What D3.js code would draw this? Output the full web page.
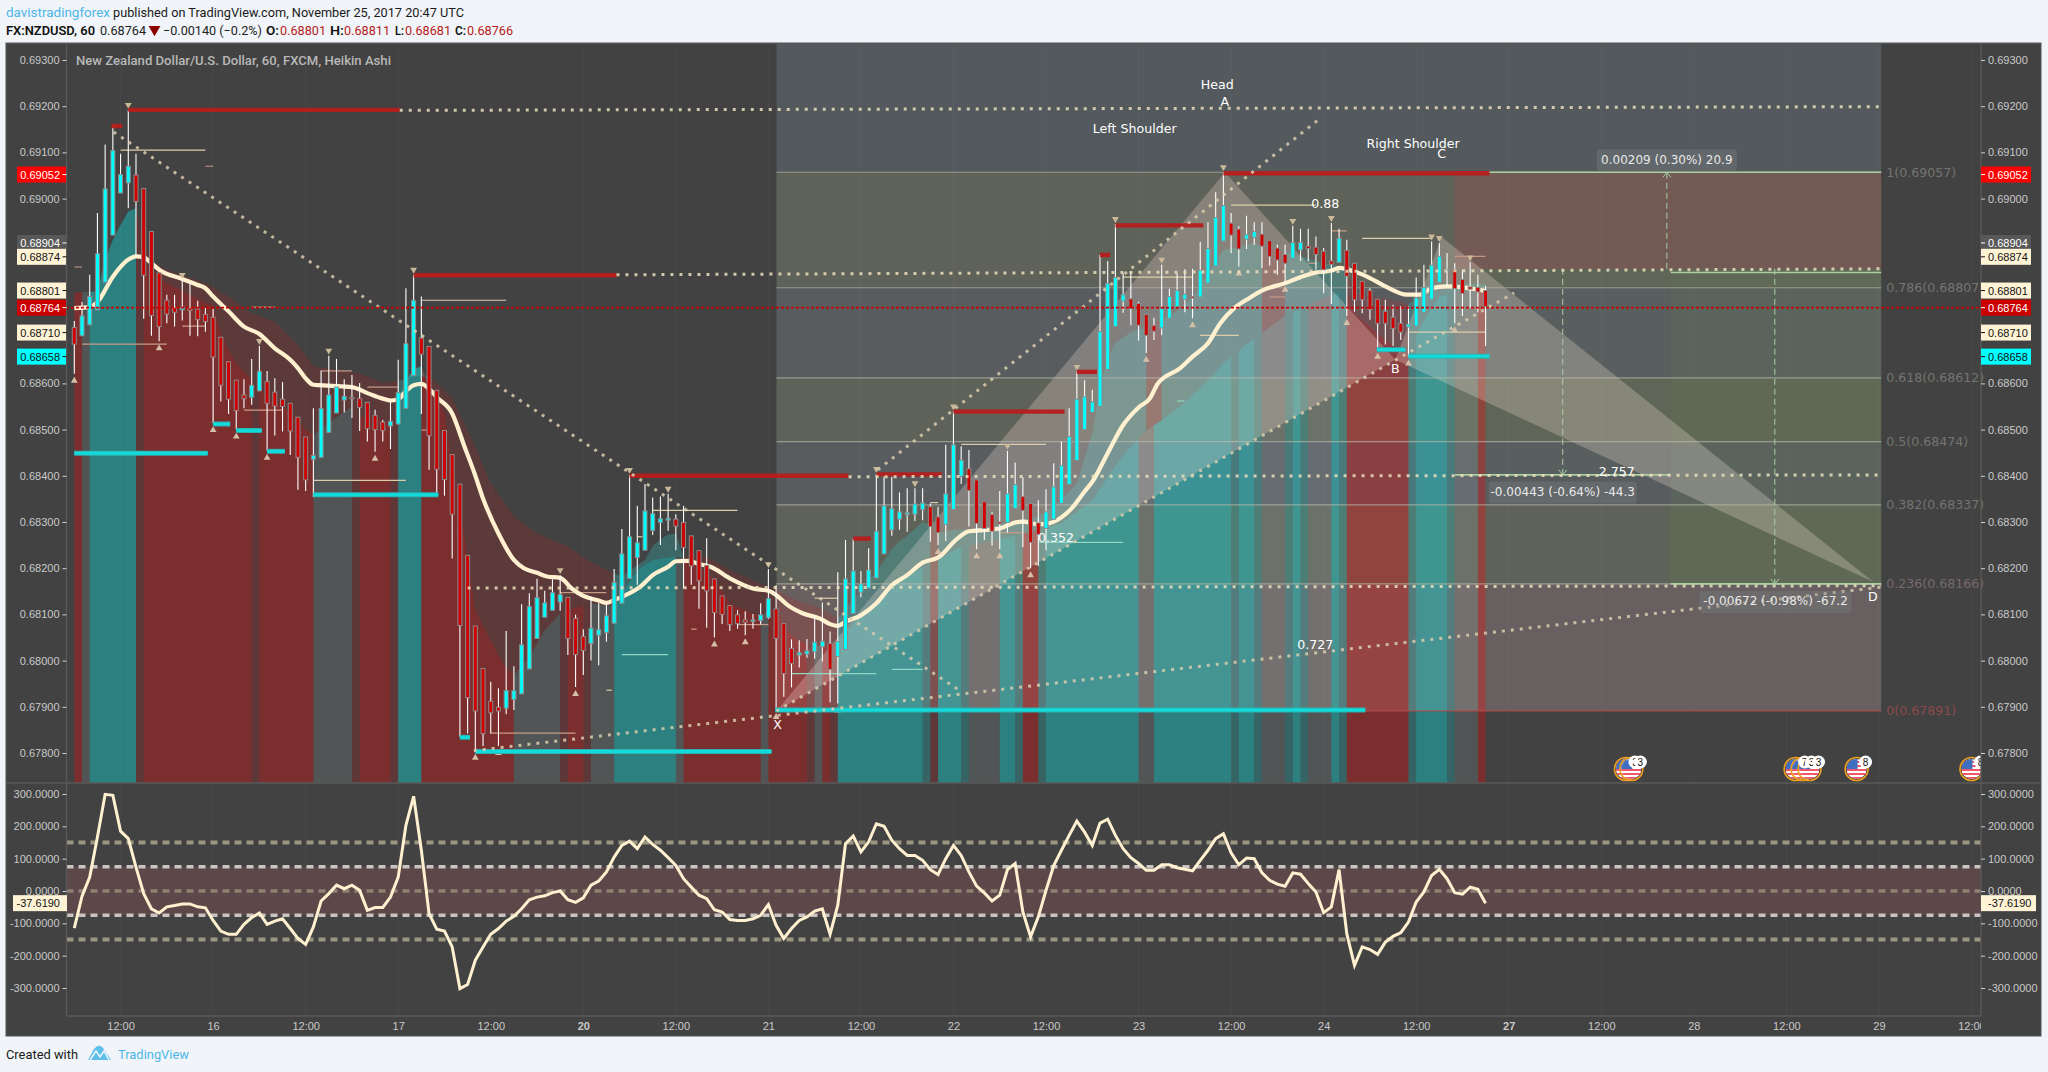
<!DOCTYPE html>
<html><head><meta charset="utf-8">
<script src="https://cdnjs.cloudflare.com/ajax/libs/d3/7.8.5/d3.min.js"></script>
<style>html,body{margin:0;padding:0;background:#f1f5f9}svg{display:block}</style>
</head><body><script>
// prices are in units of 0.00001; x positions are bar numbers (0 = first candle)
const opens=[68721,68703,68727,68759,68819,68921,69012,69034,69051,69022,
68929,68839,68780,68764,68759,68763,68761,68749,68743,68700,
68647,68607,68575,68570,68584,68604,68581,68566,68557,68527,
68484,68436,68440,68494,68536,68564,68570,68567,68559,68531,
68516,68508,68512,68546,68617,68698,68680,68585,68498,68446,
68382,68228,68075,67983,67912,67899,67897,67916,67928,67982,
68048,68094,68109,68127,68137,68091,68052,68037,68055,68061,
68081,68124,68178,68223,68239,68282,68299,68304,68306,68299,
68270,68238,68206,68177,68140,68119,68099,68088,68086,68087,
68093,68112,68080,68026,68012,68014,68019,68030,68037,68009,
68024,68102,68148,68157,68179,68231,68283,68306,68316,68317,
68327,68333,68311,68295,68327,68399,68415,68391,68344,68316,
68300,68299,68329,68355,68340,68298,68286,68306,68340,68381,
68433,68500,68537,68550,68630,68723,68778,68783,68773,68749,
68725,68720,68741,68765,68782,68788,68787,68817,68854,68908,
68947,68934,68912,68916,68923,68909,68893,68879,68871,68889,
68897,68895,68886,68865,68862,68888,68860,68821,68801,68782,
68756,68743,68730,68722,68724,68754,68782,68819,68846,68847,
68825,68809,68808,68801];
const closes=[68685,68746,68788,68881,69021,69104,69052,69070,68994,68834,
68747,68723,68750,68754,68764,68758,68738,68734,68657,68596,
68566,68541,68567,68596,68626,68557,68551,68550,68497,68440,
68391,68444,68546,68575,68592,68572,68567,68548,68502,68500,
68498,68518,68580,68686,68780,68663,68487,68414,68392,68317,
68076,67920,67891,67842,67887,67891,67935,67935,68034,68117,
68136,68125,68147,68143,68048,68013,68022,68070,68067,68097,
68169,68231,68268,68255,68324,68318,68307,68308,68291,68245,
68205,68173,68151,68104,68100,68078,68080,68083,68088,68099,
68134,68048,67972,67994,68017,68021,68040,68042,67981,68041,
68177,68194,68166,68196,68280,68335,68329,68322,68320,68339,
68341,68290,68277,68361,68467,68434,68368,68297,68286,68280,
68296,68361,68381,68325,68256,68273,68322,68376,68422,68485,
68566,68571,68560,68712,68816,68829,68792,68762,68726,68704,
68713,68762,68788,68801,68793,68786,68845,68892,68959,68985,
68921,68891,68922,68929,68897,68875,68867,68860,68905,68905,
68892,68879,68846,68858,68914,68832,68781,68781,68760,68730,
68730,68719,68711,68728,68785,68808,68856,68875,68847,68805,
68795,68804,68798,68766];
const highs=[68735,68776,68835,68969,69117,69158,69097,69192,69097,69022,
68929,68839,68792,68792,68824,68817,68779,68763,68761,68700,
68647,68607,68609,68653,68681,68627,68611,68603,68557,68527,
68484,68546,68628,68660,68653,68609,68618,68601,68559,68543,
68521,68560,68651,68806,68835,68788,68680,68585,68498,68446,
68382,68228,68075,67983,67954,67940,68064,67988,68122,68146,
68177,68151,68176,68185,68137,68099,68068,68137,68125,68124,
68198,68285,68402,68335,68382,68353,68355,68361,68317,68335,
68270,68238,68265,68177,68140,68119,68109,68107,68101,68124,
68198,68163,68080,68046,68044,68047,68097,68126,68063,68191,
68261,68264,68194,68243,68404,68399,68398,68364,68373,68373,
68373,68340,68333,68467,68539,68464,68456,68391,68344,68321,
68367,68454,68429,68397,68340,68347,68371,68427,68475,68546,
68625,68607,68586,68878,68865,68945,68838,68843,68777,68749,
68742,68857,68805,68839,68847,68848,68906,68949,69014,69057,
68969,68940,68963,68949,68949,68909,68900,68900,68941,68935,
68935,68918,68893,68947,68935,68911,68860,68821,68806,68782,
68781,68770,68767,68767,68829,68857,68907,68904,68882,68860,
68846,68862,68835,68811];
const lows=[68621,68703,68726,68759,68819,68921,69012,68979,68875,68740,
68703,68691,68730,68723,68736,68703,68702,68712,68514,68561,
68534,68500,68546,68554,68583,68454,68487,68496,68445,68370,
68367,68354,68440,68494,68536,68537,68525,68497,68474,68452,
68474,68458,68512,68546,68617,68534,68413,68363,68357,68221,
67835,67842,67805,67815,67842,67815,67884,67893,67928,67982,
68048,68094,68109,68108,68012,67943,67969,68000,67990,68041,
68081,68124,68178,68164,68239,68272,68250,68281,68239,68156,
68164,68112,68071,68050,68079,68064,68069,68055,68069,68078,
68090,67893,67922,67942,67985,68006,68004,67998,67910,67907,
68024,68102,68137,68157,68179,68231,68270,68283,68279,68302,
68304,68257,68250,68259,68327,68382,68290,68241,68261,68249,
68241,68277,68329,68246,68200,68205,68239,68306,68340,68381,
68433,68500,68537,68550,68630,68723,68753,68726,68693,68666,
68694,68704,68741,68765,68754,68741,68787,68817,68854,68908,
68882,68853,68891,68900,68850,68855,68835,68818,68871,68865,
68864,68846,68795,68772,68862,68746,68755,68752,68738,68673,
68684,68681,68694,68658,68724,68754,68782,68819,68810,68730,
68746,68763,68754,68681];

const emaBars=[0,2,3,5,7,8,9,10,11,14,16,17,18,20,22,24,26,28,29,30,31,33,36,38,40,41,42,43,44,45,46,47,49,50.6,51.9,53,55,57,58.3,60,61.3,63,64.5,66,68,69,70,71,73.4,75,77,78,79.6,81,82.5,85,88,90,91,92.5,94.5,96.7,98,99,100,102,104,106,108,110,112,114.5,116,118.3,120,121.8,123,125,126,128,129.3,131,132,134,136,138,139.5,140.5,143.4,145,147,148.6,150.4,152,154,157,159,161,163,164,166,168,170,172.8,174.5,176,178,180,183];
const emaVals=[68763,68765,68776,68831,68868,68875,68873,68860,68846,68826,68813,68806,68788,68756,68723,68707,68676,68651,68633,68611,68597,68595,68592,68579,68567,68563,68566,68583,68596,68599,68588,68570,68535,68463,68405,68351,68275,68218,68200,68190,68182,68179,68156,68140,68130,68125,68131,68138,68160,68185,68203,68215,68216,68209,68203,68178,68156,68151,68142,68120,68102,68091,68079,68075,68084,68098,68124,68163,68185,68212,68223,68264,68280,68283,68286,68298,68301,68295,68296,68310,68329,68366,68387,68449,68510,68548,68568,68600,68633,68658,68687,68730,68763,68781,68801,68817,68830,68840,68844,68850,68842,68828,68810,68792,68792,68806,68810,68808,68800];

const upperBars=[0,3,4,5,6,7,8,9,10,12,14,17,20,23,26,29,31,34,37,40,42,44,46,48,49,51.8,54,57,60,64,66.5,69.5,71,74,75.2,77,78.2,79,82,85,89,90.8,93.4,96.4,99,104.5,106.3,108.4,110.2,112,114,118,122,125,128,130,132,133.4,135,137.5,139,142.7,145,146.7,149,153,154,158,162,165,166,172.8,173.5,175,177,183];
const upperVals=[68797,68799,68868,68911,68943,68972,68979,68911,68866,68846,68834,68818,68788,68752,68734,68684,68637,68629,68622,68601,68606,68615,68615,68586,68568,68470,68384,68312,68275,68247,68218,68192,68182,68218,68254,68273,68275,68225,68225,68196,68167,68156,68131,68117,68091,68203,68250,68275,68304,68275,68283,68286,68304,68311,68347,68384,68492,68636,68688,68716,68720,68753,68787,68831,68889,68904,68896,68880,68860,68850,68795,68774,68767,68810,68815,68815];
const lowerBars=[0,3,4,5,6,7,8,9,10.5,12,18,19.3,21,23,25,27,29,30.7,33.5,36,37,40,41,42,43.7,45,46,48,49.2,50.5,51.8,54,55.7,57,59,61,63,64,67,70,71.5,73,75,78,79,81,83.5,85,88,89.3,90,91,92.5,94.6,97.2,99,100,102,104,107.5,111,112.5,115,119.5,123,128,132,135.5,138.5,141,143.4,146.4,149.8,152.8,157.1,163,165.7,166,170,172.8,174.5,177,180,183];
const lowerVals=[68797,68799,68868,68911,68943,68972,68979,68860,68839,68817,68767,68694,68644,68608,68572,68550,68521,68485,68521,68550,68528,68521,68514,68572,68629,68637,68593,68535,68405,68290,68117,68044,67990,67969,68008,68066,68102,68110,68124,68117,68160,68196,68218,68226,68221,68203,68167,68124,68102,68095,68110,68109,68059,68037,68030,68044,68059,68102,68124,68181,68210,68225,68246,68261,68275,68297,68347,68434,68492,68521,68550,68597,68658,68694,68748,68792,68799,68752,68694,68658,68723,68788,68803,68803];

// background state of the bars: [first bar, last bar, state]
const columnRuns=[[0,1,'r'],[1,2,'g'],[2,8,'t'],[8,9,'b'],[9,23,'r'],[23,24,'b'],[24,31,'r'],[31,36,'g'],[36,37,'b'],[37,41,'r'],[41,42,'b'],[42,45,'t'],[45,57,'r'],[57,63,'g'],[63,64,'b'],[64,66,'r'],[66,67,'b'],[67,70,'g'],[70,78,'t'],[78,79,'g'],[79,89,'r'],[89,90,'g'],[90,95,'r'],[95,96,'b'],[96,97,'g'],[97,98,'r'],[98,99,'b'],[99,110,'t'],[110,111,'m'],[111,112,'b'],[112,115,'t'],[115,116,'m'],[116,120,'g'],[120,122,'t'],[122,123,'m'],[123,125,'r'],[125,126,'m'],[126,138,'t'],[138,140,'g'],[140,150,'t'],[150,151,'m'],[151,153,'t'],[153,154,'m'],[154,157,'g'],[157,158,'m'],[158,159,'t'],[159,160,'m'],[160,163,'g'],[163,164,'t'],[164,165,'m'],[165,173,'r'],[173,174,'m'],[174,178,'t'],[178,179,'m'],[179,182,'g'],[182,183,'r']];
const bandRuns=[[0,42,'r'],[42,46,'t'],[46,70,'r'],[70,79,'t'],[79,99,'r'],[99,111,'t'],[111,112,'r'],[112,139,'t'],[139,141,'r'],[141,154,'t'],[154,157,'r'],[157,165,'t'],[165,173,'r'],[173,183,'t']];

const fibLevels=[1,0.786,0.618,0.5,0.382,0.236,0];
const fibPrices=[69057,68807,68612,68474,68337,68166,67891];
const fibLabels=['1(0.69057)','0.786(0.68807)','0.618(0.68612)','0.5(0.68474)','0.382(0.68337)','0.236(0.68166)','0(0.67891)'];
const fibFills=['#5f6258','#585c5f','#5f6258','#585c5f','#5f6258','#686060'];
const fibStart=91.05, fibEnd=234.3, chartTop=69460;

const patternBars=[91.05,149.2,171.3,177.3,233.3];
const patternVals=[67891,69057,68651,68917,68170];

// dotted trend lines [bar, price, bar, price]
const dottedH=[[42.2,69191,234.3,69199],[70.3,68835,234.3,68848],[100.4,68398,234.3,68402],[51,68157,234.3,68162]];
const dottedD=[[5.1,69144,115.1,67932],[51.8,67805,234.3,68159],[104.2,68413,161.5,69173],[91.05,67891,186.7,68796]];
const redLevels=[[4.8,6.2,69157],[7,42.2,69192],[44,70.3,68834],[72,100.4,68400],[104,112.5,68403],[101,103.3,68264],[114,128.4,68539],[130,132.6,68625],[133,134.3,68878],[135,146.4,68942],[149,183.5,69055]];
const cyanLevels=[[0,17.3,68449],[18,20.2,68512],[21,24.3,68498],[25,27.3,68453],[31,47.2,68359],[50,51.3,67834],[52,90.4,67803],[90.9,167.4,67893],[168.9,172.6,68673],[173,183.5,68659]];
const pivots=[[6,17,69105,'a'],[17,18,69070,'b'],[0,1,68852,'b'],[1,12,68685,'b'],[14,17,68724,'b'],[23,26,68765,'b'],[22,27,68542,'b'],[32,36,68627,'b'],[38,42,68592,'b'],[45,56,68780,'a'],[45,46,68499,'b'],[31,43,68390,'a'],[54,65,67843,'b'],[63,69,68147,'b'],[71,77,68013,'c'],[69,69.7,67936,'a'],[75,86,68325,'a'],[73,73.7,68268,'a'],[80,80.7,68068,'b'],[86,90,68078,'b'],[93,104,67972,'c'],[106,110,67981,'c'],[96,99,68135,'a'],[115,126,68468,'a'],[111,112,68342,'a'],[120,123,68277,'b'],[125,136,68256,'c'],[136,145,68830,'a'],[146,151,68704,'a'],[143,144,68562,'c'],[150,161,68986,'a'],[155,157,68787,'b'],[163,165,68930,'b'],[160,161,68860,'b'],[167,176,68914,'a'],[179,183,68875,'b'],[173,183,68711,'a']];
const fractalDown=[7,14,24,33,44,63,72,77,90,104,109,114,121,130,135,141,149,158,163,176,177,181];
const fractalUp=[0,11,18,21,25,39,52,55,65,83,87,91,99,112,117,120,124,139,145,151,157,165,169,173,179];

const cci=[-115,-16,43,167,299,296,185,162,74,-8,-55,-68,-49,-45,-40,-40,-49,-52,-91,-124,
-134,-134,-103,-82,-68,-103,-93,-86,-116,-147,-165,-111,-31,-8,18,7,18,2,-60,-51,
-51,-19,43,203,293,126,-70,-118,-124,-173,-302,-289,-214,-173,-134,-116,-93,-78,-55,-27,
-19,-15,-5,0,-27,-35,-21,18,31,59,105,141,154,131,167,144,126,103,79,38,
12,-13,-24,-58,-65,-88,-91,-91,-86,-75,-42,-106,-147,-116,-91,-80,-62,-55,-134,-44,
146,170,121,152,208,200,157,131,110,110,95,66,51,100,141,110,59,15,-6,-31,
-13,66,85,-65,-142,-80,2,79,126,172,216,182,141,210,222,172,131,103,85,64,
64,81,81,72,67,62,95,126,162,177,118,81,102,100,56,33,21,15,56,52,
23,-3,-67,-49,66,-132,-230,-173,-181,-196,-158,-140,-129,-96,-34,-3,48,67,38,-5,-10,12,5,-37.6];

const priceTicks=[69300,69200,69100,69000,68600,68500,68400,68300,68200,68100,68000,67900,67800];
const badgePrices=[69052,68904,68874,68801,68764,68710,68658];
const badgeFills=['#ff0000','#585858','#fff3d6','#fff3d6','#cc0000','#fff3d6','#00ffff'];
const badgeInks=['#ffffff','#ffffff','#111111','#111111','#ffffff','#111111','#111111'];
const cciTicks=[300,200,100,0,-100,-200,-300];
const cciLevels=[150,75,0,-75,-150];
const cciLevelColors=['#9b9680','#c9c4c2','#8f8173','#c9c4c2','#9b9680'];
const timeBars=[6,18,30,42,54,66,78,90,102,114,126,138,150,162,174,186,198,210,222,234,246];
const timeLabels=['12:00','16','12:00','17','12:00','20','12:00','21','12:00','22','12:00','23','12:00','24','12:00','27','12:00','28','12:00','29','12:00'];
const flagBars=[201.2,201.9,223.2,224.1,225,231.1,246];
const flagCounts=['3','3','7','3','3','8','8'];
const axisFont='"Liberation Sans",Arial,sans-serif', noteFont='"DejaVu Sans",sans-serif', headFont='Roboto,sans-serif';

const X=d3.scaleLinear().domain([0,183]).range([74.3,1485.6]);
const Y=d3.scaleLinear().domain([67800,69300]).range([753,60]);
const O=d3.scaleLinear().domain([-300,300]).range([988,794]);
const upperAt=d3.scaleLinear().domain(upperBars).range(upperVals);
const lowerAt=d3.scaleLinear().domain(lowerBars).range(lowerVals);
const n=opens.length;

const svg=d3.select('body').append('svg').attr('width',2048).attr('height',1072);
svg.append('rect').attr('width',2048).attr('height',1072).attr('fill','#f1f5f9');
const defs=svg.append('defs');
[['cMain',66.5,43,1914.5,740],['cOsc',66.5,783,1914.5,233],['cTime',66.5,1016,1914.5,20]].forEach(c=>
 defs.append('clipPath').attr('id',c[0]).append('rect').attr('x',c[1]).attr('y',c[2]).attr('width',c[3]).attr('height',c[4]));

// header
function ht(x,w,y,s,fill,weight){svg.append('text').attr('x',x).attr('y',y).attr('textLength',w).attr('lengthAdjust','spacingAndGlyphs')
 .attr('font-family',headFont).attr('font-size',13).attr('font-weight',weight||400).attr('fill',fill).text(s);}
ht(6,104,16.5,'davistradingforex','#4db5e6');
ht(113,351,16.5,'published on TradingView.com, November 25, 2017 20:47 UTC','#1a1a1a');
ht(6,89,34.5,'FX:NZDUSD, 60','#111',600);
ht(100,46,34.5,'0.68764','#222');
svg.append('path').attr('d',d3.symbol(d3.symbolTriangle,60)()).attr('transform','translate(154.5,29.5) rotate(180)').attr('fill','#8b0000');
ht(163,99,34.5,'\u22120.00140 (\u22120.2%)','#222');
[[266,13,'O:',280,'0.68801'],[330,14,'H:',344,'0.68811'],[395,9,'L:',405,'0.68681'],[455,11,'C:',467,'0.68766']].forEach(d=>{
 ht(d[0],d[1],34.5,d[2],'#111',600); ht(d[3],46,34.5,d[4],'#b71c1c');});

// panel
svg.append('rect').attr('x',6).attr('y',43).attr('width',2035).attr('height',993).attr('fill','#424242');
svg.append('line').attr('x1',6).attr('x2',2041).attr('y1',43.5).attr('y2',43.5).attr('stroke','#555');

const main=svg.append('g').attr('clip-path','url(#cMain)');
// fib zones
main.append('rect').attr('x',X(fibStart)).attr('width',X(fibEnd)-X(fibStart)).attr('y',Y(chartTop)).attr('height',Y(fibPrices[0])-Y(chartTop)).attr('fill','#53595c');
fibFills.forEach((f,i)=>main.append('rect').attr('x',X(fibStart)).attr('width',X(fibEnd)-X(fibStart)).attr('y',Y(fibPrices[i])).attr('height',Y(fibPrices[i+1])-Y(fibPrices[i])).attr('fill',f));
// position tools
const toolA=179, toolB=207, toolEnd=fibEnd;
main.append('rect').attr('x',X(toolA)).attr('width',X(toolEnd)-X(toolA)).attr('y',Y(69057)).attr('height',Y(68848)-Y(69057)).attr('fill','rgba(255,40,60,.13)');
main.append('rect').attr('x',X(toolA)).attr('width',X(toolB)-X(toolA)).attr('y',Y(68848)).attr('height',Y(68402)-Y(68848)).attr('fill','rgba(110,150,80,.06)');
main.append('rect').attr('x',X(toolB)).attr('width',X(toolEnd)-X(toolB)).attr('y',Y(68848)).attr('height',Y(68166)-Y(68848)).attr('fill','rgba(110,150,80,.15)');
// grid
main.selectAll('.g').data(timeBars).join('line').attr('x1',d=>X(d)).attr('x2',d=>X(d)).attr('y1',43).attr('y2',783).attr('stroke','#fff').attr('stroke-opacity',.035);

// columns up to the slow curve
const colFill={r:'rgba(255,0,0,.3)',t:'rgba(0,255,255,.33)',g:'rgba(230,255,255,.1)',b:'rgba(255,0,0,.15)',m:'rgba(0,255,255,.18)'};
const seq=(a,b)=>d3.range(a,b+1);
const colArea=d3.area().x(d=>X(d)).y0(783).y1(d=>Y(lowerAt(d)));
main.selectAll('.col').data(columnRuns).join('path').attr('d',d=>colArea(seq(d[0],d[1]))).attr('fill',d=>colFill[d[2]]);
// band
const bandFill={r:'rgba(200,30,30,.2)',t:'rgba(50,190,190,.3)'};
const bandArea=d3.area().x(d=>X(d)).y0(d=>Y(lowerAt(d))).y1(d=>Y(upperAt(d)));
main.selectAll('.band').data(bandRuns).join('path').attr('d',d=>bandArea(seq(d[0],d[1]))).attr('fill',d=>bandFill[d[2]]);
// pattern triangles
const pt=i=>[X(patternBars[i]),Y(patternVals[i])];
main.append('path').attr('d',d3.line()([pt(0),pt(1),pt(2)])+'Z').attr('fill','rgba(255,230,225,.25)');
main.append('path').attr('d',d3.line()([pt(2),pt(3),pt(4)])+'Z').attr('fill','rgba(255,240,225,.25)');
// fib lines
fibPrices.forEach((p,i)=>main.append('line').attr('x1',X(fibStart)).attr('x2',X(fibEnd)).attr('y1',Y(p)).attr('y2',Y(p))
 .attr('stroke',i==6?'#b04a4a':'#bdbdb0').attr('stroke-opacity',i==6?.9:.65).attr('stroke-width',1.2));
// pivots
const pivotColor={a:'#dccdaa',b:'#c89b88',c:'#8fd8c4'};
main.selectAll('.p').data(pivots).join('line').attr('x1',d=>X(d[0])).attr('x2',d=>X(d[1])).attr('y1',d=>Y(d[2])).attr('y2',d=>Y(d[2])).attr('stroke',d=>pivotColor[d[3]]).attr('stroke-width',1.2);
// tools lines
const green='#a9cfa2';
[[toolA,toolEnd,69057],[toolB,toolEnd,68840],[toolA,toolB,68402],[toolB,toolEnd,68166]].forEach(d=>
 main.append('line').attr('x1',X(d[0])).attr('x2',X(d[1])).attr('y1',Y(d[2])).attr('y2',Y(d[2])).attr('stroke',green).attr('stroke-width',1.6));
const arrow=(b,p1,p2)=>{const dir=p2>p1?1:-1,xx=X(b),yy=Y(p2);
 main.append('line').attr('x1',xx).attr('x2',xx).attr('y1',Y(p1)).attr('y2',yy).attr('stroke',green).attr('stroke-width',1).attr('stroke-dasharray','6 4');
 main.append('path').attr('d',`M${xx-4} ${yy+dir*5}L${xx} ${yy}L${xx+4} ${yy+dir*5}`).attr('fill','none').attr('stroke',green);};
arrow(206.5,68848,69057);arrow(193,68848,68402);arrow(220.5,68848,68166);

// ema
main.append('path').attr('d',d3.line().curve(d3.curveMonotoneX).x(d=>X(d[0])).y(d=>Y(d[1]))(emaBars.map((b,i)=>[b,emaVals[i]]))).attr('fill','none').attr('stroke','#fff1d0').attr('stroke-width',4.2);

// candles
const bars=d3.range(n);
main.selectAll('.w').data(bars).join('line').attr('x1',d=>X(d)).attr('x2',d=>X(d)).attr('y1',d=>Y(highs[d])).attr('y2',d=>Y(lows[d])).attr('stroke','#fff').attr('stroke-width',1.1);
main.selectAll('.b').data(bars).join('rect').attr('x',d=>X(d)-2).attr('width',4)
 .attr('y',d=>Y(Math.max(opens[d],closes[d]))).attr('height',d=>Math.max(1.5,Math.abs(Y(opens[d])-Y(closes[d]))))
 .attr('fill',d=>closes[d]>=opens[d]?'#00ffff':'#d00000').attr('stroke','#8a8a8a').attr('stroke-width',1);

// fractals
const tri=d3.symbol(d3.symbolTriangle,20)();
main.selectAll('.fd').data(fractalDown).join('path').attr('d',tri).attr('transform',d=>`translate(${X(d)},${Y(highs[d])-5}) rotate(180)`).attr('fill','#c9b998');
main.selectAll('.fu').data(fractalUp).join('path').attr('d',tri).attr('transform',d=>`translate(${X(d)},${Y(lows[d])+7})`).attr('fill','#d6bfa8');

// levels
main.selectAll('.cy').data(cyanLevels).join('line').attr('x1',d=>X(d[0])).attr('x2',d=>X(d[1])).attr('y1',d=>Y(d[2])).attr('y2',d=>Y(d[2])).attr('stroke','#2fb0b0').attr('stroke-width',5);
main.selectAll('.cy2').data(cyanLevels).join('line').attr('x1',d=>X(d[0])).attr('x2',d=>X(d[1])).attr('y1',d=>Y(d[2])).attr('y2',d=>Y(d[2])).attr('stroke','#10dcdc').attr('stroke-width',3);
main.selectAll('.rd').data(redLevels).join('line').attr('x1',d=>X(d[0])).attr('x2',d=>X(d[1])).attr('y1',d=>Y(d[2])).attr('y2',d=>Y(d[2])).attr('stroke','#b71c1c').attr('stroke-width',4.4).attr('stroke-opacity',.95);
// dotted
main.selectAll('.dh').data(dottedH).join('line').attr('x1',d=>X(d[0])).attr('y1',d=>Y(d[1])).attr('x2',d=>X(d[2])).attr('y2',d=>Y(d[3])).attr('stroke','#eadfbd').attr('stroke-opacity',.85).attr('stroke-width',3).attr('stroke-dasharray','3 6');
main.selectAll('.dd').data(dottedD).join('line').attr('x1',d=>X(d[0])).attr('y1',d=>Y(d[1])).attr('x2',d=>X(d[2])).attr('y2',d=>Y(d[3])).attr('stroke','#d9cdae').attr('stroke-opacity',.85).attr('stroke-width',3).attr('stroke-dasharray','3 6');
// last price
main.append('line').attr('x1',66).attr('x2',1981).attr('y1',Y(68764)).attr('y2',Y(68764)).attr('stroke','#cc0000').attr('stroke-width',1.8).attr('stroke-dasharray','3 2');

// news flags
const flagG=main.append('g');
flagBars.forEach((b,i)=>{const cx=X(b),cy=769,r=10;const id='fl'+i;
 defs.append('clipPath').attr('id',id).append('circle').attr('cx',cx).attr('cy',cy).attr('r',r);
 const g=flagG.append('g');const inner=g.append('g').attr('clip-path',`url(#${id})`);
 inner.append('rect').attr('x',cx-r).attr('y',cy-r).attr('width',2*r).attr('height',2*r).attr('fill','#ffffff');
 d3.range(0,5).forEach(s=>inner.append('rect').attr('x',cx-r).attr('width',2*r).attr('y',cy-r+s*4+2).attr('height',2).attr('fill','#f0566a'));
 inner.append('rect').attr('x',cx-r).attr('y',cy-r).attr('width',r+1).attr('height',r).attr('fill','#3f6fc0');
 g.append('circle').attr('cx',cx).attr('cy',cy).attr('r',r+1.5).attr('fill','none').attr('stroke','#f0a020').attr('stroke-width',1.6);
});
flagBars.forEach((b,i)=>{const cx=X(b)+9,cy=762;
 flagG.append('circle').attr('cx',cx).attr('cy',cy).attr('r',6.5).attr('fill','#fff');
 flagG.append('text').attr('x',cx).attr('y',cy+3.6).attr('text-anchor','middle').attr('font-family',axisFont).attr('font-size',10).attr('fill','#111').text(flagCounts[i]);
});

// annotations
const noteG=svg.append('g').attr('clip-path','url(#cMain)');
function note(s,b,p,anchor,fill,size){noteG.append('text').attr('x',X(b)).attr('y',Y(p)).attr('text-anchor',anchor||'middle').attr('dominant-baseline','middle')
 .attr('font-family',noteFont).attr('font-size',size||12.6).attr('fill',fill||'#fff').text(s);}
function tag(s,b,p,w){const xx=X(b),yy=Y(p);
 noteG.append('rect').attr('x',xx-w/2).attr('y',yy-11).attr('width',w).attr('height',22).attr('rx',3).attr('fill','#7a7f80').attr('fill-opacity',.38);
 note(s,b,p,'middle','#e9e9e9',12);}
const notes=[['Head',148.2,69244],['A',149.2,69208],['Left Shoulder',137.5,69150],['Right Shoulder',173.6,69117],['C',177.3,69095],['B',171.3,68630],['X',91.2,67860],['D',233.2,68136],['0.88',162.2,68987],['0.352',127.3,68265],['0.727',160.9,68032],['2.757',200,68408]];
notes.forEach(d=>note(d[0],d[1],d[2]));
tag('0.00209 (0.30%) 20.9',206.5,69083,140);
tag('-0.00443 (-0.64%) -44.3',193,68364,148);
tag('-0.00672 (-0.98%) -67.2',220.6,68127,152);
noteG.append('text').attr('x',76).attr('y',64.5).attr('textLength',315).attr('lengthAdjust','spacingAndGlyphs').attr('font-family',headFont).attr('font-weight',500).attr('font-size',13).attr('fill','#b8b8b8').text('New Zealand Dollar/U.S. Dollar, 60, FXCM, Heikin Ashi');
fibLabels.forEach((s,i)=>svg.append('text').attr('x',X(fibEnd)+5).attr('y',Y(fibPrices[i])+1).attr('dominant-baseline','middle').attr('font-family',noteFont).attr('font-size',12.6).attr('fill',i==6?'#8d4a4a':(i==5?'#756a6a':'#747470')).text(s));

// oscillator
const osc=svg.append('g').attr('clip-path','url(#cOsc)');
osc.selectAll('.g').data(timeBars).join('line').attr('x1',d=>X(d)).attr('x2',d=>X(d)).attr('y1',783).attr('y2',1016).attr('stroke','#fff').attr('stroke-opacity',.035);
osc.append('rect').attr('x',66.5).attr('width',1914.5).attr('y',O(75)).attr('height',O(-75)-O(75)).attr('fill','#5c4848');
cciLevels.forEach((v,i)=>osc.append('line').attr('x1',66.5).attr('x2',1981).attr('y1',O(v)).attr('y2',O(v)).attr('stroke',cciLevelColors[i]).attr('stroke-width',i%2==0&&i!=2?4:3.4).attr('stroke-dasharray','7 5'));
osc.append('path').attr('d',d3.line().x((d,i)=>X(i)).y(d=>O(d))(cci)).attr('fill','none').attr('stroke','#fff1d0').attr('stroke-width',3).attr('stroke-linejoin','miter');

// frame lines
svg.append('g').selectAll('line').data([[66.5,43,66.5,1016],[1981,43,1981,1016],[6,783,2041,783],[66.5,1016,1981,1016]]).join('line')
 .attr('x1',d=>d[0]).attr('y1',d=>d[1]).attr('x2',d=>d[2]).attr('y2',d=>d[3]).attr('stroke','#5a5a5a').attr('stroke-width',1.3);
svg.append('rect').attr('x',6).attr('y',43).attr('width',2035).attr('height',993).attr('fill','none').attr('stroke','#555');

// axes
function styleAxis(g,weightFn){g.select('.domain').remove();g.selectAll('line').attr('stroke','#cfcfcf');
 g.selectAll('text').attr('font-family',axisFont).attr('font-size',11).attr('fill','#c9c9c9');}
svg.append('g').attr('transform','translate(66.5,0)').call(d3.axisLeft(Y).tickValues(priceTicks).tickSize(4).tickPadding(3).tickFormat(d=>(d/1e5).toFixed(5))).call(styleAxis);
svg.append('g').attr('transform','translate(1981,0)').call(d3.axisRight(Y).tickValues(priceTicks).tickSize(4).tickPadding(3).tickFormat(d=>(d/1e5).toFixed(5))).call(styleAxis);
svg.append('g').attr('transform','translate(66.5,0)').call(d3.axisLeft(O).tickValues(cciTicks).tickSize(4).tickPadding(3).tickFormat(d=>d3.format('.4f')(d).replace('\u2212','-'))).call(styleAxis);
svg.append('g').attr('transform','translate(1981,0)').call(d3.axisRight(O).tickValues(cciTicks).tickSize(4).tickPadding(3).tickFormat(d=>d3.format('.4f')(d).replace('\u2212','-'))).call(styleAxis);
svg.append('g').attr('clip-path','url(#cTime)').append('g').attr('transform','translate(0,1016)').call(d3.axisBottom(X).tickValues(timeBars).tickSize(0).tickPadding(6).tickFormat((d,i)=>timeLabels[i])).call(styleAxis)
 .selectAll('text').attr('font-weight',(d,i)=>(timeLabels[i]==='20'||timeLabels[i]==='27')?700:400);

// value badges
badgePrices.forEach((p,i)=>{[[17,49,60,'end',66.5,62.5],[1981,50,1988,'start',1981,1985]].forEach(s=>{
 svg.append('rect').attr('x',s[0]).attr('y',Y(p)-8).attr('width',s[1]).attr('height',16).attr('fill',badgeFills[i]);
 svg.append('line').attr('x1',s[4]).attr('x2',s[5]).attr('y1',Y(p)).attr('y2',Y(p)).attr('stroke',badgeInks[i]);
 svg.append('text').attr('x',s[2]).attr('y',Y(p)+4).attr('text-anchor',s[3]).attr('font-family',axisFont).attr('font-size',11).attr('fill',badgeInks[i]).text((p/1e5).toFixed(5));
});});
const cciLast=cci[cci.length-1];
[[13,54,60,'end'],[1981,55,1988,'start']].forEach(s=>{
 svg.append('rect').attr('x',s[0]).attr('y',O(cciLast)-8).attr('width',s[1]).attr('height',16).attr('fill','#fff3d6');
 svg.append('text').attr('x',s[2]).attr('y',O(cciLast)+4).attr('text-anchor',s[3]).attr('font-family',axisFont).attr('font-size',11).attr('fill','#111').text('-37.6190');
});

// footer
svg.append('text').attr('x',6).attr('y',1059).attr('textLength',72).attr('lengthAdjust','spacingAndGlyphs').attr('font-family',headFont).attr('font-size',13).attr('fill','#1a1a1a').text('Created with');
svg.append('path').attr('d','M88 1060 L94 1049 Q99 1043 103 1048 L111 1060 Z').attr('fill','#5cc0ea');
svg.append('path').attr('d','M90 1060 L96 1051 L100 1057 L104 1051 L109 1060').attr('fill','none').attr('stroke','#f1f5f9').attr('stroke-width',1.5);
svg.append('text').attr('x',118).attr('y',1059).attr('textLength',71).attr('lengthAdjust','spacingAndGlyphs').attr('font-family',headFont).attr('font-size',13).attr('fill','#4db5e6').text('TradingView');
</script></body></html>
